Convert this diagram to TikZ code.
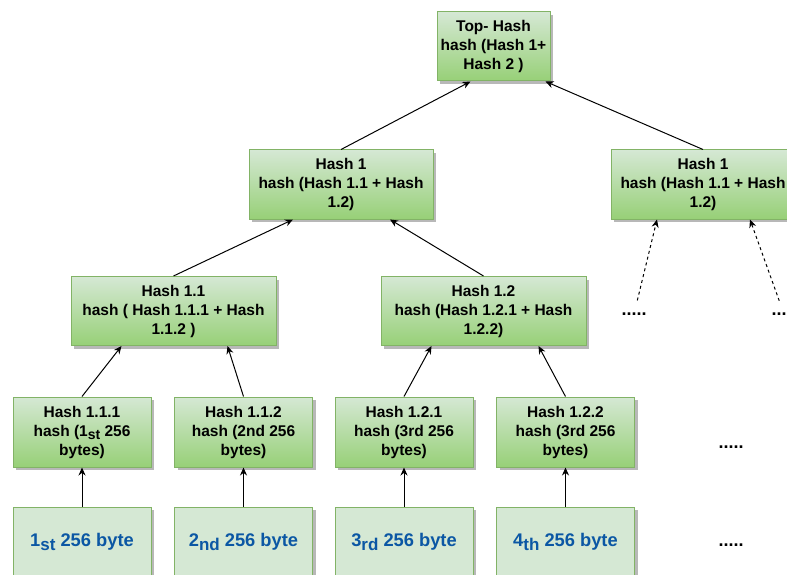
\documentclass[tikz,border=0pt]{standalone}
\usepackage{fontspec}
\setmainfont{Liberation Sans}
\usetikzlibrary{arrows.meta,shadows}
\definecolor{hashtop}{HTML}{D5E8D4}
\definecolor{hashbot}{HTML}{97D077}
\definecolor{hashline}{HTML}{82B366}
\definecolor{bytetext}{HTML}{0B57A4}
\newcommand{\lowsub}[2][14]{\raisebox{-0.45ex}{\fontsize{#1}{#1}\selectfont #2}}
\tikzset{
	hashbox/.style={draw=hashline, line width=1pt, top color=hashtop, bottom color=hashbot,
		align=center, inner sep=0pt, font=\bfseries\fontsize{15.5}{19}\selectfont,
		drop shadow={shadow xshift=3pt, shadow yshift=-3pt, fill=black!28, opacity=1}},
	bytebox/.style={draw=hashline, line width=1pt, fill=hashtop, text=bytetext,
		minimum width=138pt, minimum height=70pt, inner sep=0pt,
		font=\bfseries\fontsize{18.3}{22}\selectfont,
		drop shadow={shadow xshift=3pt, shadow yshift=-3pt, fill=black!28, opacity=1}},
	morebox/.style={font=\bfseries\fontsize{18}{18}\selectfont, inner sep=1pt}
}
\begin{document}
\begin{tikzpicture}[x=1pt, y=-1pt, >={Stealth[length=8pt, width=7pt]}, line width=1pt]
	\clip (0, 0) rectangle (787, 575);
	\fill[white] (0, 0) rectangle (787, 575);
	% root
	\node[hashbox, minimum width=113pt, minimum height=69pt] (top) at (493.5, 46.5) {Top- Hash\\hash (Hash 1+\\Hash 2 )};
	% level 1
	\node[hashbox, minimum width=184pt, minimum height=69pt] (h1) at (341, 184.5) {Hash 1\\hash (Hash 1.1 + Hash\\1.2)};
	\node[hashbox, minimum width=184pt, minimum height=69pt] (rh1) at (703, 184.5) {Hash 1\\hash (Hash 1.1 + Hash\\1.2)};
	% level 2
	\node[hashbox, minimum width=205pt, minimum height=69pt] (h11) at (173.5, 311) {Hash 1.1\\hash ( Hash 1.1.1 + Hash\\1.1.2 )};
	\node[hashbox, minimum width=205pt, minimum height=69pt] (h12) at (483.5, 311) {Hash 1.2\\hash (Hash 1.2.1 + Hash\\1.2.2)};
	% leaves
	\node[hashbox, minimum width=138pt, minimum height=70pt] (h111) at (82, 432) {Hash 1.1.1\\hash (1\lowsub{st} 256\\bytes)};
	\node[hashbox, minimum width=138pt, minimum height=70pt] (h112) at (243.5, 432) {Hash 1.1.2\\hash (2nd 256\\bytes)};
	\node[hashbox, minimum width=138pt, minimum height=70pt] (h121) at (404, 432) {Hash 1.2.1\\hash (3rd 256\\bytes)};
	\node[hashbox, minimum width=138pt, minimum height=70pt] (h122) at (565.5, 432) {Hash 1.2.2\\hash (3rd 256\\bytes)};
	% data blocks
	\node[bytebox] (b1) at (82, 542) {1\lowsub[17]{st} 256 byte};
	\node[bytebox] (b2) at (243.5, 542) {2\lowsub[17]{nd} 256 byte};
	\node[bytebox] (b3) at (404, 542) {3\lowsub[17]{rd} 256 byte};
	\node[bytebox] (b4) at (565.5, 542) {4\lowsub[17]{th} 256 byte};
	% more
	\node[morebox] (d1) at (634, 314) {.....};
	\node[morebox] (d2) at (784, 314) {.....};
	\node[morebox] (d3) at (731, 447) {.....};
	\node[morebox] (d4) at (731, 545) {.....};
	% edges
	\draw[->] (h1.north) -- ([xshift=-23pt]top.south);
	\draw[->] (rh1.north) -- ([xshift=52pt]top.south);
	\draw[->] (h11.north) -- ([xshift=-48pt]h1.south);
	\draw[->] (h12.north) -- ([xshift=49pt]h1.south);
	\draw[->] (h111.north) -- ([xshift=-52pt]h11.south);
	\draw[->] (h112.north) -- ([xshift=54pt]h11.south);
	\draw[->] (h121.north) -- ([xshift=-52pt]h12.south);
	\draw[->] (h122.north) -- ([xshift=55pt]h12.south);
	\draw[->] (b1) -- (h111);
	\draw[->] (b2) -- (h112);
	\draw[->] (b3) -- (h121);
	\draw[->] (b4) -- (h122);
	\draw[->, dash pattern=on 3pt off 3pt, shorten <=14pt] (d1.center) -- ([xshift=-46pt]rh1.south);
	\draw[->, dash pattern=on 3pt off 3pt, shorten <=14pt] (d2.center) -- ([xshift=47pt]rh1.south);
\end{tikzpicture}
\end{document}
